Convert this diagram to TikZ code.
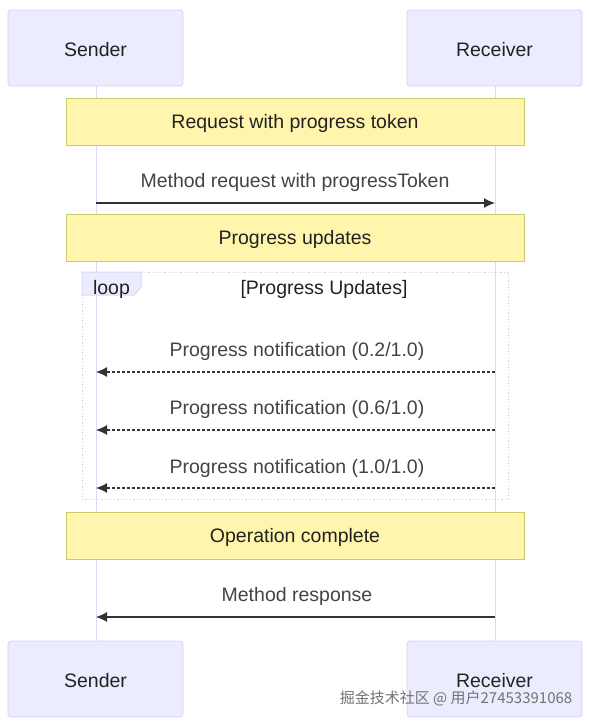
\documentclass[tikz,border=0pt]{standalone}
\usepackage{fontspec}
\setmainfont{Liberation Sans}
\newfontfamily\cjk{Noto Sans CJK SC}
\usetikzlibrary{arrows.meta}
\definecolor{actfill}{HTML}{ECECFF}
\definecolor{actline}{HTML}{D6D2F2}
\definecolor{lifeline}{HTML}{DCD8F4}
\definecolor{notefill}{HTML}{FFF5AD}
\definecolor{noteline}{HTML}{CACA6A}
\definecolor{msgline}{HTML}{333333}
\definecolor{txt}{HTML}{222222}
\tikzset{
  x=1pt,y=-1pt,
  bigfont/.style={font=\fontsize{19.5}{22}\selectfont},
  actor/.style={draw=actline,fill=actfill,rounded corners=3pt,line width=0.8pt,minimum width=175pt,minimum height=76pt,bigfont,text=txt},
  notebox/.style={draw=noteline,fill=notefill,line width=0.8pt,minimum width=458pt,minimum height=47pt,bigfont,text=txt},
  msgtxt/.style={bigfont,text=txt!85!white},
  life/.style={draw=lifeline,line width=1pt},
  solidmsg/.style={draw=msgline,line width=1.2pt,-{Latex[length=11pt,width=10pt]}},
  dashmsg/.style={draw=msgline,line width=1.2pt,dash pattern=on 3pt off 2pt,-{Latex[length=11pt,width=10pt]}},
  loopbox/.style={draw=lifeline!90!gray,line width=1pt,dash pattern=on 1.2pt off 2pt},
}
\begin{document}
\begin{tikzpicture}
\useasboundingbox (0,0) rectangle (589,726);
% lifelines
\coordinate (sT) at (96,86); \coordinate (sB) at (96,641);
\coordinate (rT) at (495,86); \coordinate (rB) at (495,641);
\draw[life] (sT) -- (sB);
\draw[life] (rT) -- (rB);
% actors
\node[actor] (s1) at (95.5,48) {};
\node[bigfont,text=txt] (s1t) at (95.5,50) {Sender};
\node[actor] (r1) at (494.5,48) {};
\node[bigfont,text=txt] (r1t) at (494.5,50) {Receiver};
\node[actor] (s2) at (95.5,679) {};
\node[bigfont,text=txt] (s2t) at (95.5,681) {Sender};
\node[actor] (r2) at (494.5,679) {};
\node[bigfont,text=txt] (r2t) at (494.5,681) {Receiver};
% notes
\node[notebox] (n1) at (295,121.5) {};
\node[bigfont,text=txt] (n1t) at (295,123.5) {Request with progress token};
\node[notebox] (n2) at (295,237.5) {};
\node[bigfont,text=txt] (n2t) at (295,239.5) {Progress updates};
\node[notebox] (n3) at (295,535.5) {};
\node[bigfont,text=txt] (n3t) at (295,537.5) {Operation complete};
% message 1
\coordinate (m1s) at (96,203); \coordinate (m1r) at (495,203);
\draw[solidmsg] (m1s) -- (m1r);
\node[msgtxt] (t1) at (295,182) {Method request with progressToken};
% loop
\draw[loopbox] (82,272) rectangle (508,499);
\draw[solid,fill=actfill,draw=lifeline,line width=1pt] (82,272) -- (141,272) -- (141,287) -- (134,295) -- (82,295) -- cycle;
\node[bigfont,text=txt] (lp) at (111.5,289) {loop};
\node[bigfont,text=txt] (lc) at (324,289) {[Progress Updates]};
% progress messages
\coordinate (p1r) at (495,372); \coordinate (p1s) at (96,372);
\coordinate (p2r) at (495,430); \coordinate (p2s) at (96,430);
\coordinate (p3r) at (495,488); \coordinate (p3s) at (96,488);
\draw[dashmsg] (p1r) -- (p1s);
\draw[dashmsg] (p2r) -- (p2s);
\draw[dashmsg] (p3r) -- (p3s);
\node[msgtxt] (pt1) at (297,351) {Progress notification (0.2/1.0)};
\node[msgtxt] (pt2) at (297,409) {Progress notification (0.6/1.0)};
\node[msgtxt] (pt3) at (297,468) {Progress notification (1.0/1.0)};
% response
\coordinate (rr) at (495,617); \coordinate (rs) at (96,617);
\draw[solidmsg] (rr) -- (rs);
\node[msgtxt] (t2) at (297,596) {Method response};
% watermark
\node[font=\cjk\fontsize{15}{17}\selectfont,text=black!55] (wm) at (456,698) {掘金技术社区 @ 用户27453391068};
\end{tikzpicture}
\end{document}
